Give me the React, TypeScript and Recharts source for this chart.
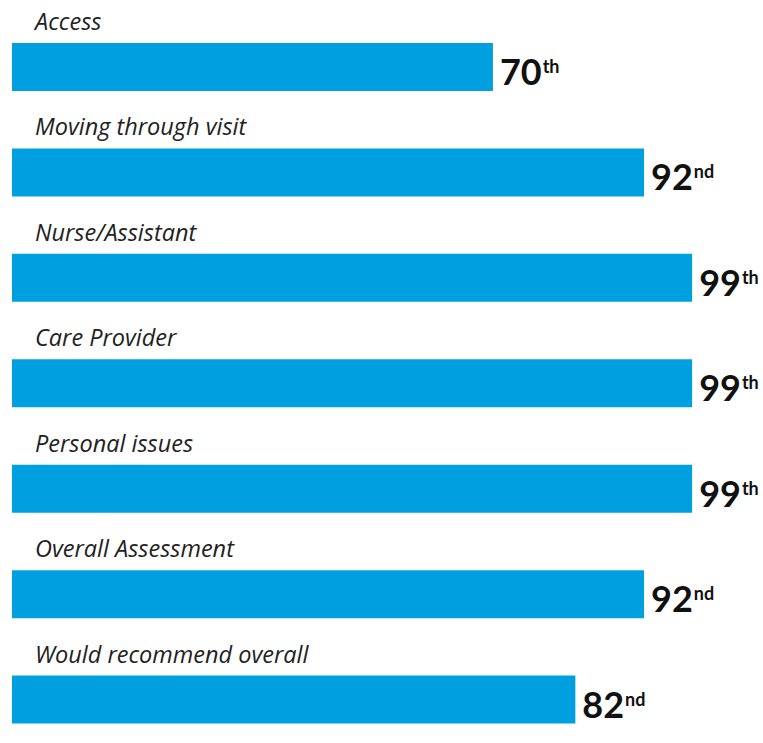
import { Bar, BarChart, LabelList, XAxis, YAxis } from 'recharts'

const categories = [
  'Access',
  'Moving through visit',
  'Nurse/Assistant',
  'Care Provider',
  'Personal issues',
  'Overall Assessment',
  'Would recommend overall',
]
const percentiles = [70, 92, 99, 99, 99, 92, 82]
const suffixes = ['th', 'nd', 'th', 'th', 'th', 'nd', 'nd']

const data = categories.map((name, i) => ({
  name,
  value: percentiles[i],
  suffix: suffixes[i],
}))

const BLUE = '#009fdf'

function CategoryLabel(props: any) {
  const { x, y, value } = props
  return (
    <text
      x={Number(x) + 23}
      y={Number(y) - 13}
      fontFamily='"Open Sans", sans-serif'
      fontStyle='italic'
      fontSize={23.5}
      fill='#222'
    >
      {value}
    </text>
  )
}

function ValueLabel(props: any) {
  const { x, y, width, height, value, index } = props
  const suffix = suffixes[index] ?? (value === 92 || value === 82 ? 'nd' : 'th')
  return (
    <text
      x={Number(x) + Number(width) + 7}
      y={Number(y) + Number(height) / 2 + 18}
      fontFamily='Lato, sans-serif'
      fontWeight={700}
      fill='#111'
    >
      <tspan fontSize={36}>{value}</tspan>
      <tspan fontSize={18} dx={1} dy={-12}>
        {suffix}
      </tspan>
    </text>
  )
}

export default function App() {
  return (
    <div
      style={{
        position: 'absolute',
        left: 0,
        top: 0,
        width: 763,
        height: 743,
        overflow: 'hidden',
        background: '#fff',
      }}
    >
      <BarChart
        width={763}
        height={752}
        data={data}
        layout='vertical'
        margin={{ top: 14, right: 64, bottom: 0, left: 12 }}
        barSize={48}
      >
        <XAxis type='number' domain={[0, 100]} hide />
        <YAxis
          type='category'
          dataKey='name'
          width={0}
          tick={false}
          tickLine={false}
          axisLine={{ stroke: '#d9d9d9', strokeWidth: 2 }}
        />
        <Bar dataKey='value' fill={BLUE} isAnimationActive={false}>
          <LabelList dataKey='name' content={CategoryLabel} />
          <LabelList dataKey='value' content={ValueLabel} />
        </Bar>
      </BarChart>
    </div>
  )
}
